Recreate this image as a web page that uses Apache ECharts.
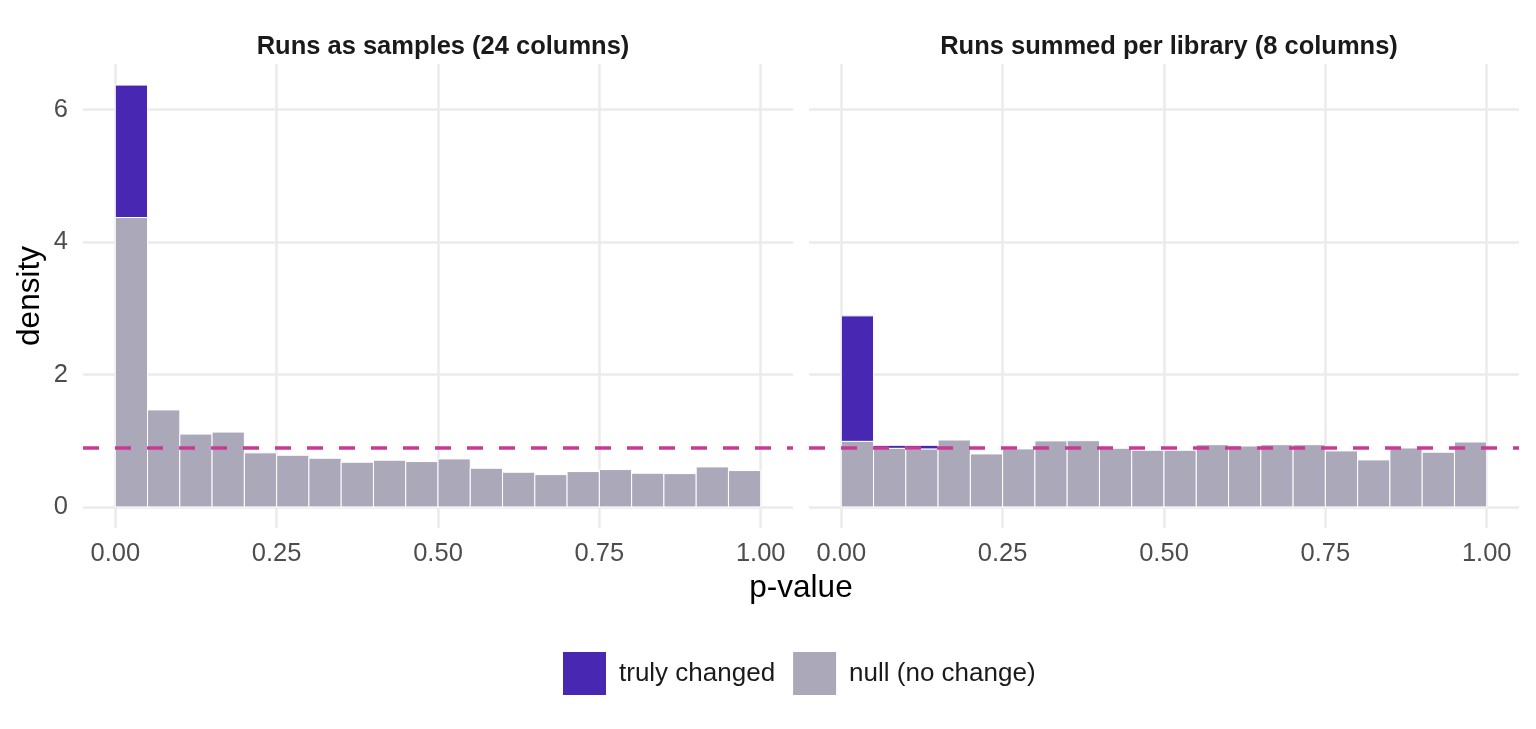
<!DOCTYPE html>
<html>
<head>
<meta charset="utf-8">
<title>p-value histograms</title>
<script src="https://cdn.jsdelivr.net/npm/echarts@6.0.0/dist/echarts.min.js"></script>
<style>
html, body { margin: 0; padding: 0; background: #fff; }
#chart { width: 1536px; height: 729px; }
</style>
</head>
<body>
<div id="chart"></div>
<script>
// bin edges: 20 bins of width 0.05 from 0 to 1
var binWidth = 0.05;
var binCount = 20;

// density of null p-values stacked under the truly changed ones
var leftNull = [4.37, 1.465, 1.10, 1.13, 0.816, 0.78, 0.735, 0.675, 0.705, 0.685,
                0.725, 0.584, 0.524, 0.488, 0.534, 0.564, 0.509, 0.503, 0.604, 0.549];
var leftChanged = [2.0, 0, 0, 0, 0, 0, 0, 0, 0, 0,
                   0, 0, 0, 0, 0, 0, 0, 0, 0, 0];
var rightNull = [0.99, 0.885, 0.876, 1.01, 0.80, 0.876, 0.997, 1.00, 0.886, 0.856,
                 0.856, 0.94, 0.92, 0.94, 0.94, 0.846, 0.71, 0.89, 0.826, 0.98];
var rightChanged = [1.895, 0.045, 0.054, 0, 0, 0, 0, 0, 0, 0,
                    0, 0, 0, 0, 0, 0, 0, 0, 0, 0];

var panelTitles = ['Runs as samples (24 columns)', 'Runs summed per library (8 columns)'];
var xTicks = [0, 0.25, 0.5, 0.75, 1];
var yTicks = [0, 2, 4, 6];
var nullLevel = 0.9;

var purple = '#4827B2';
var grey = '#ABA8BA';
var pink = '#C83A96';
var gridColor = '#EBEBEB';
var font = 'Liberation Sans';

// stacked rectangles [x0, x1, y0, y1]
function stackRects(lower, upper, onTop){
	var out = [];
	for (var i = 0; i < binCount; i++) {
		var x0 = i * binWidth;
		if (onTop) {
			if (upper[i] <= 0) continue;
			out.push([x0, x0 + binWidth, lower[i], lower[i] + upper[i]]);
		} else {
			out.push([x0, x0 + binWidth, 0, lower[i]]);
		}
	}
	return out;
}

var ymax = 0;
for (var i = 0; i < binCount; i++) {
	ymax = Math.max(ymax, leftNull[i] + leftChanged[i], rightNull[i] + rightChanged[i]);
}
var yPad = ymax * 0.05;

function renderRect(params, api){
	var p0 = api.coord([api.value(0), api.value(3)]);
	var p1 = api.coord([api.value(1), api.value(2)]);
	return {
		type: 'rect',
		shape: { x: p0[0], y: p0[1], width: p1[0] - p0[0], height: p1[1] - p0[1] },
		style: { fill: api.visual('color'), stroke: '#ffffff', lineWidth: 1 }
	};
}

function xAxisFor(idx){
	return {
		type: 'value', gridIndex: idx, min: -0.05, max: 1.05,
		axisLine: { show: false },
		axisTick: { show: false, customValues: xTicks },
		axisLabel: {
			customValues: xTicks, margin: 13,
			fontSize: 25.5, color: '#4D4D4D', fontFamily: font,
			formatter: function(v){ return v.toFixed(2); }
		},
		splitLine: { show: true, lineStyle: { color: gridColor, width: 2.5 } }
	};
}

function yAxisFor(idx){
	return {
		type: 'value', gridIndex: idx, min: -yPad, max: ymax + yPad,
		axisLine: { show: false },
		axisTick: { show: false, customValues: yTicks },
		axisLabel: {
			show: idx === 0, customValues: yTicks, margin: 15,
			fontSize: 25.5, color: '#4D4D4D', fontFamily: font
		},
		splitLine: { show: true, lineStyle: { color: gridColor, width: 2.5 } }
	};
}

function histSeries(name, color, idx, data, withLine){
	var s = {
		name: name, type: 'custom', xAxisIndex: idx, yAxisIndex: idx,
		itemStyle: { color: color },
		encode: { x: [0, 1], y: [2, 3] },
		renderItem: renderRect,
		data: data,
		z: 2
	};
	if (withLine) {
		s.markLine = {
			silent: true, symbol: ['none', 'none'], label: { show: false },
			lineStyle: { color: pink, width: 3.5, type: [16, 16] },
			data: [{ yAxis: nullLevel }],
			z: 5
		};
	}
	return s;
}

var chart = echarts.init(document.getElementById('chart'));
var option = {
	backgroundColor: '#ffffff',
	animation: false,
	title: [
		{ text: panelTitles[0], left: 438, top: 29, textAlign: 'center',
		  textStyle: { fontSize: 25.5, fontWeight: 'bold', color: '#1A1A1A', fontFamily: font } },
		{ text: panelTitles[1], left: 1164, top: 29, textAlign: 'center',
		  textStyle: { fontSize: 25.5, fontWeight: 'bold', color: '#1A1A1A', fontFamily: font } }
	],
	legend: {
		data: ['truly changed', 'null (no change)'],
		left: 563, top: 652, padding: 0,
		icon: 'rect', itemWidth: 43, itemHeight: 43, itemGap: 18,
		textStyle: { fontSize: 26, color: '#1A1A1A', fontFamily: font, padding: [0, 0, 0, 8] }
	},
	grid: [
		{ left: 83, top: 64, width: 710, height: 464 },
		{ left: 809, top: 64, width: 710, height: 464 }
	],
	xAxis: [xAxisFor(0), xAxisFor(1)],
	yAxis: [yAxisFor(0), yAxisFor(1)],
	graphic: [
		{ type: 'text', x: 801, y: 588,
		  style: { text: 'p-value', fontSize: 31.5, fill: '#000', fontFamily: font,
		           align: 'center', verticalAlign: 'middle' } },
		{ type: 'text', x: 30, y: 296, rotation: Math.PI / 2,
		  style: { text: 'density', fontSize: 31.5, fill: '#000', fontFamily: font,
		           align: 'center', verticalAlign: 'middle' } }
	],
	series: [
		histSeries('null (no change)', grey, 0, stackRects(leftNull, leftChanged, false), true),
		histSeries('truly changed', purple, 0, stackRects(leftNull, leftChanged, true), false),
		histSeries('null (no change)', grey, 1, stackRects(rightNull, rightChanged, false), true),
		histSeries('truly changed', purple, 1, stackRects(rightNull, rightChanged, true), false)
	]
};
chart.setOption(option);
</script>
</body>
</html>
